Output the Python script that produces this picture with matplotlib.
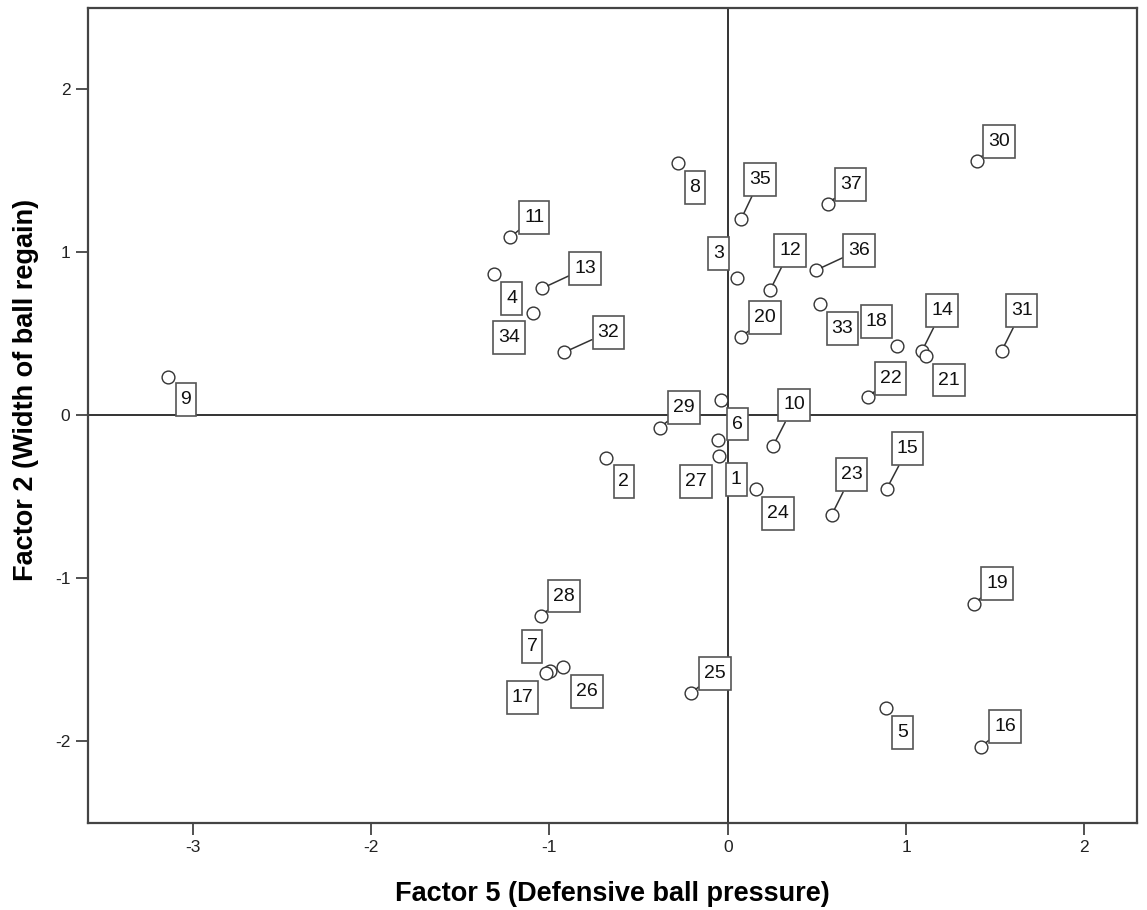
import matplotlib
matplotlib.use('Agg')
import matplotlib.pyplot as plt
from matplotlib.path import Path

plt.rcParams['font.family'] = ['Liberation Sans', 'DejaVu Sans']
plt.rcParams['axes.unicode_minus'] = False

# Case numbers and factor scores
cases = [9, 8, 35, 11, 13, 4, 34, 32, 3, 12, 36, 20, 33, 29, 6, 10, 1, 27,
         2, 24, 23, 30, 37, 18, 14, 21, 31, 22, 15, 28, 7, 17, 26, 25, 19, 5, 16]
factor5 = [-3.141, -0.280, 0.075, -1.220, -1.042, -1.313, -1.092, -0.917,
           0.050, 0.237, 0.494, 0.075, 0.519, -0.381, -0.039, 0.254, -0.053,
           -0.049, -0.684, 0.159, 0.583, 1.397, 0.561, 0.951, 1.090, 1.112,
           1.537, 0.785, 0.892, -1.047, -0.997, -1.021, -0.924, -0.206,
           1.382, 0.886, 1.421]
factor2 = [0.235, 1.544, 1.202, 1.090, 0.777, 0.867, 0.628, 0.385,
           0.842, 0.765, 0.888, 0.479, 0.683, -0.078, 0.092, -0.190, -0.153,
           -0.252, -0.262, -0.454, -0.613, 1.558, 1.293, 0.423, 0.394, 0.362,
           0.394, 0.109, -0.452, -1.233, -1.569, -1.585, -1.546, -1.707,
           -1.160, -1.796, -2.035]

# label placement (pixel offsets from the point, up positive) and leader flag
label_dx = [18, 17, 19, 24, 43, 18, -24, 44, -18, 20, 43, 24, 22, 24, 17, 21, 18,
            -23, 18, 22, 20, 22, 23, -21, 20, 23, 20, 23, 21, 23, -18, -23, 24, 24,
            23, 17, 24]
label_dy = [-23, -24, 40, 20, 20, -25, -25, 20, 24, 40, 20, 19, -25, 20, -24, 41, -40,
            -25, -24, -24, 40, 20, 20, 25, 40, -24, 40, 19, 40, 20, 24, -24, -24, 20,
            21, -25, 20]
leader = [0, 0, 1, 1, 1, 0, 0, 1, 0, 1, 1, 1, 0, 1, 0, 1, 0,
          0, 0, 0, 1, 1, 1, 0, 1, 0, 1, 1, 1, 1, 0, 0, 0, 1,
          1, 0, 1]


def tall_box(x0, y0, width, height, mutation_size):
    # SPSS style label box: more padding top/bottom than left/right
    px = 0.25 * mutation_size
    py = 0.41 * mutation_size
    x0, y0 = x0 - px, y0 - py
    x1, y1 = x0 + width + 2 * px, y0 + height + 2 * py
    return Path([(x0, y0), (x1, y0), (x1, y1), (x0, y1), (x0, y0)], closed=True)


fig = plt.figure(figsize=(11.47, 9.10), dpi=100)
ax = fig.add_axes([0.0767, 0.0959, 0.9143, 0.895])

ax.axhline(0, color='#111111', lw=1.2, zorder=1)
ax.axvline(0, color='#111111', lw=1.2, zorder=1)

ax.plot(factor5, factor2, 'o', ms=9.2, mfc='white', mec='#333333', mew=1.0,
        linestyle='none', zorder=3)

for c, x, y, dx, dy, ld in zip(cases, factor5, factor2, label_dx, label_dy, leader):
    arrow = None
    if ld:
        arrow = dict(arrowstyle='-', color='#333333', lw=1.1, shrinkA=0, shrinkB=4.6)
    ax.annotate(str(c), xy=(x, y), xytext=(dx, dy), textcoords='offset pixels',
                ha='center', va='center', fontsize=14, color='#111111',
                bbox=dict(boxstyle=tall_box, fc='white', ec='#555555', lw=1.2),
                arrowprops=arrow, zorder=4)

ax.set_xlim(-3.589, 2.294)
ax.set_ylim(-2.501, 2.495)
ax.set_xticks([-3, -2, -1, 0, 1, 2])
ax.set_yticks([-2, -1, 0, 1, 2])
ax.tick_params(direction='out', length=8.6, width=1.1, labelsize=12.5,
               colors='#222222', pad=4)
for s in ax.spines.values():
    s.set_color('#444444')
    s.set_linewidth(1.6)

ax.set_xlabel('Factor 5 (Defensive ball pressure)', fontsize=19.5, weight='bold')
ax.set_ylabel('Factor 2 (Width of ball regain)', fontsize=19.5, weight='bold')
ax.xaxis.set_label_coords(0.5, -0.071)
ax.yaxis.set_label_coords(-0.047, 0.532)

fig.savefig('out.png', dpi=100)
